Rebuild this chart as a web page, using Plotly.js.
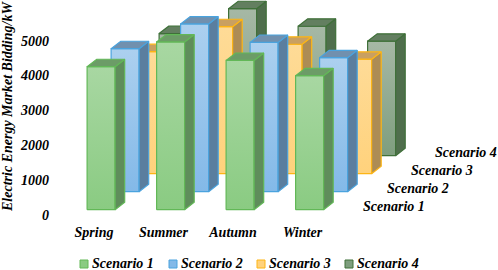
<!DOCTYPE html>
<html><head><meta charset="utf-8">
<script src="https://cdn.plot.ly/plotly-3.0.1.min.js"></script>
<style>html,body{margin:0;padding:0;background:#fff}#c{width:498px;height:270px}</style>
</head><body><div id="c"></div>
<script>
var seasons = ['Spring','Summer','Autumn','Winter'];
var scenarios = ['Scenario 1','Scenario 2','Scenario 3','Scenario 4'];
var scenario1 = [4110,4820,4290,3850];
var scenario2 = [4110,4820,4290,3850];
var scenario3 = [3510,4225,3720,3290];
var scenario4 = [3510,4225,3720,3290];
var yTicks = [0,1000,2000,3000,4000,5000];
var seriesValues = [scenario1,scenario2,scenario3,scenario4];

var frontTop = ['#a8d7a2','#acd0ef','#fedb97','#a6b8a5'];
var frontBot = ['#8acb82','#83b9e8','#ffd27c','#7e9e7e'];
var edge     = ['#62b857','#4aa3de','#fdb515','#3f7039'];
var sideCol  = ['#5f8d5b','#5a7e9f','#ad8c55','#4f6e4c'];
var topCol   = ['#6c9c67','#7190ae','#c9a061','#637f60'];

var font = 'Liberation Serif';
var txt = {family:font,size:14,color:'#000'};
function bi(s){return '<b><i>'+s+'</i></b>';}

var pxX = 69.5, pxY = 0.0348;           // px per category, px per kW
var barW = 28/pxX;
var stepX = 24/pxX, stepY = 18/pxY;     // shift from one scenario row to the next
var depX = 9.6/pxX, depY = 7.4/pxY;     // depth of a bar
var x0 = -0.2;

function poly(xs,ys,fill,line,grad){
  var t={type:'scatter',mode:'lines',x:xs.concat(xs[0]),y:ys.concat(ys[0]),fill:'toself',
    line:{color:line,width:1.2},hoverinfo:'skip',showlegend:false,cliponaxis:true};
  if(grad){t.fillgradient=grad;}else{t.fillcolor=fill;}
  return t;
}
var traces=[];
for(var s=3;s>=0;s--){
  var vals=seriesValues[s];
  for(var i=0;i<seasons.length;i++){
    var l=i+x0+s*stepX, r=l+barW, b=s*stepY, t=b+vals[i];
    traces.push(poly([l,r,r,l],[b,b,t,t],null,edge[s],
      {type:'vertical',start:t,stop:b,colorscale:[[0,frontTop[s]],[1,frontBot[s]]]}));
    traces.push(poly([r,r+depX,r+depX,r],[b,b+depY,t+depY,t],sideCol[s],edge[s]));
    traces.push(poly([l,r,r+depX,l+depX],[t,t,t+depY,t+depY],topCol[s],edge[s]));
  }
}
var ann=[];
var depthLabelX=[394,418,442,465.5], depthLabelY=[206,188,170,152];
scenarios.forEach(function(n,k){
  ann.push({xref:'paper',yref:'paper',x:(depthLabelX[k]-50)/448,y:(222-depthLabelY[k])/222,
    xanchor:'center',yanchor:'middle',showarrow:false,text:bi(n),font:txt});
});
var legX=[80,169,257,345];
var shapes=[];
scenarios.forEach(function(n,k){
  shapes.push({type:'rect',xref:'paper',yref:'paper',
    x0:(legX[k]-50)/448,x1:(legX[k]+8-50)/448,y0:(222-268)/222,y1:(222-260)/222,
    fillcolor:frontBot[k],line:{color:edge[k],width:1}});
  ann.push({xref:'paper',yref:'paper',x:(legX[k]+10-50)/448,y:(222-263.5)/222,
    xanchor:'left',yanchor:'middle',showarrow:false,text:bi(n),font:txt});
});
ann.push({xref:'paper',yref:'paper',x:(8-50)/448,y:(222-107)/222,xanchor:'center',yanchor:'middle',
  textangle:-90,showarrow:false,text:bi('Electric Energy Market Bidding/kW'),font:txt});

var layout={width:498,height:270,margin:{l:50,r:0,t:0,b:48},paper_bgcolor:'#fff',plot_bgcolor:'#fff',
  showlegend:false,font:txt,
  xaxis:{range:[(50-101)/pxX-0.0,(498-101)/pxX],showgrid:false,zeroline:false,showline:false,ticks:'',
    tickmode:'array',tickvals:[0,1,2,3],ticktext:seasons.map(bi),tickfont:txt,ticklabelstandoff:0,ticklabelshift:-7,fixedrange:true},
  yaxis:{range:[-12.3/pxY,209.7/pxY],showgrid:false,zeroline:false,showline:false,ticks:'',
    tickmode:'array',tickvals:yTicks,ticktext:yTicks.map(function(v){return bi(String(v));}),tickfont:txt,ticklabelshift:5,fixedrange:true},
  shapes:shapes,annotations:ann};
Plotly.newPlot('c',traces,layout,{displayModeBar:false,staticPlot:true});
</script></body></html>
